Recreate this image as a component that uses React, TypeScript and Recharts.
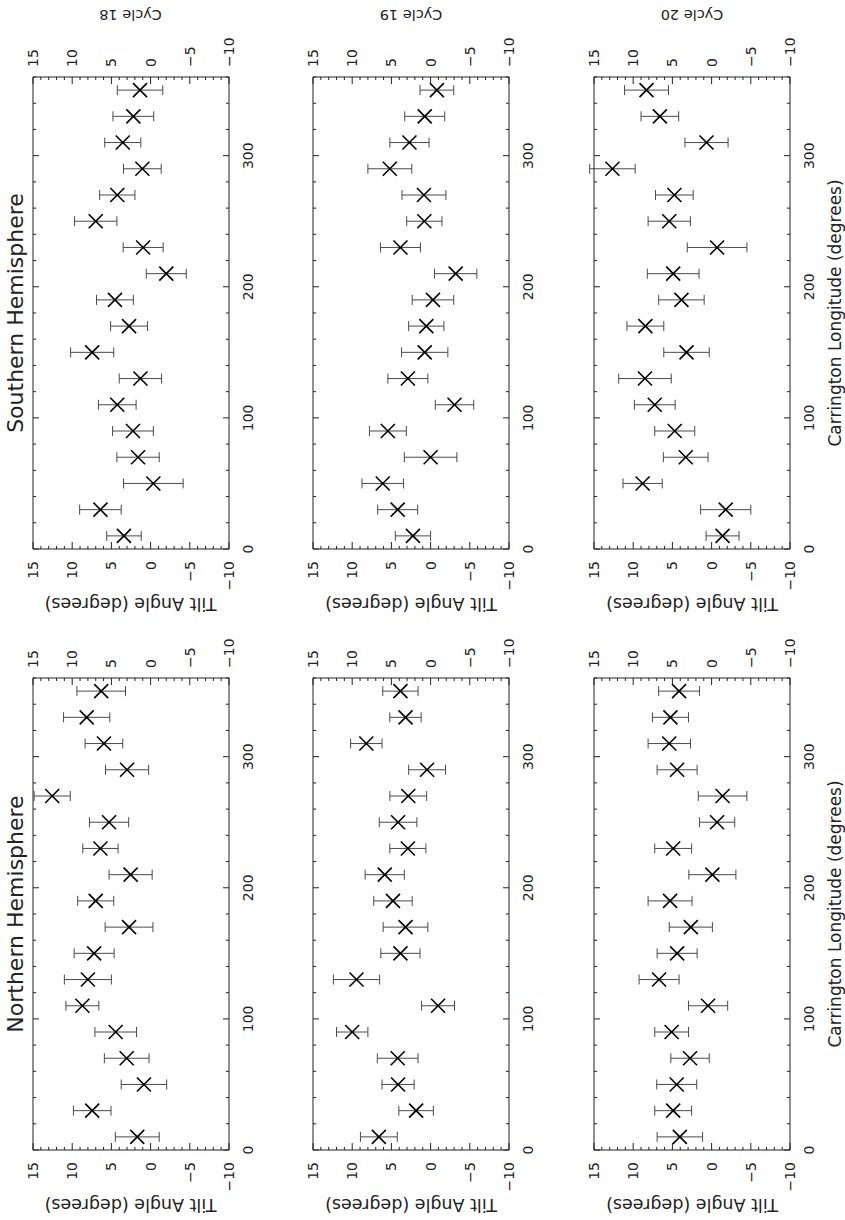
import React from 'react';
import { ScatterChart, Scatter, XAxis, YAxis, ErrorBar } from 'recharts';

// Carrington longitude bins (degrees)
const longitudes = [10, 30, 50, 70, 90, 110, 130, 150, 170, 190, 210, 230, 250, 270, 290, 310, 330, 350];

// Northern Hemisphere
const northCycle18Tilt = [1.7, 7.45, 0.85, 3.05, 4.45, 8.7, 8.0, 7.2, 2.75, 7.0, 2.55, 6.4, 5.3, 12.55, 3.0, 5.95, 8.15, 6.3];
const northCycle18Err = [2.8, 2.4, 2.9, 2.85, 2.65, 2.1, 3.0, 2.55, 3.05, 2.3, 2.75, 2.25, 2.5, 2.3, 2.75, 2.4, 2.95, 3.1];
const northCycle19Tilt = [6.6, 1.85, 4.15, 4.2, 10.0, -0.95, 9.45, 3.85, 3.2, 4.8, 5.85, 2.9, 4.15, 2.85, 0.45, 8.2, 3.2, 3.85];
const northCycle19Err = [2.35, 2.2, 2.05, 2.6, 2.0, 2.1, 2.95, 2.5, 2.85, 2.45, 2.5, 2.3, 2.4, 2.35, 2.35, 2.0, 2.0, 2.25];
const northCycle20Tilt = [4.05, 4.9, 4.45, 2.75, 5.1, 0.45, 6.7, 4.4, 2.65, 5.3, -0.1, 4.9, -0.7, -1.4, 4.4, 5.4, 5.25, 4.15];
const northCycle20Err = [2.9, 2.35, 2.55, 2.45, 2.15, 2.5, 2.55, 2.55, 2.75, 2.8, 3.0, 2.35, 2.25, 3.1, 2.55, 2.7, 2.3, 2.6];

// Southern Hemisphere
const southCycle18Tilt = [3.4, 6.4, -0.35, 1.6, 2.25, 4.25, 1.3, 7.45, 2.75, 4.55, -2.0, 0.95, 7.0, 4.25, 1.05, 3.55, 2.2, 1.35];
const southCycle18Err = [2.2, 2.65, 3.8, 2.7, 2.6, 2.4, 2.7, 2.75, 2.35, 2.35, 2.55, 2.55, 2.7, 2.25, 2.4, 2.3, 2.6, 2.9];
const southCycle19Tilt = [2.25, 4.2, 6.1, 0.0, 5.45, -3.05, 2.9, 0.75, 0.55, -0.3, -3.2, 3.85, 0.8, 0.85, 5.2, 2.7, 0.75, -0.8];
const southCycle19Err = [2.25, 2.55, 2.65, 3.35, 2.35, 2.45, 2.55, 2.95, 2.25, 2.65, 2.7, 2.55, 2.25, 2.8, 2.8, 2.5, 2.55, 2.15];
const southCycle20Tilt = [-1.4, -1.8, 8.8, 3.3, 4.7, 7.25, 8.5, 3.2, 8.45, 3.85, 4.9, -0.7, 5.4, 4.75, 12.65, 0.65, 6.6, 8.3];
const southCycle20Err = [2.1, 3.2, 2.5, 2.85, 2.55, 2.6, 3.35, 2.9, 2.35, 2.9, 3.3, 3.8, 2.7, 2.4, 2.9, 2.75, 2.4, 2.8];

// Axis ticks and labels
const lonTicks = [0, 20, 40, 60, 80, 100, 120, 140, 160, 180, 200, 220, 240, 260, 280, 300, 320, 340, 360];
const lonLabels = [0, 100, 200, 300];
const tiltTicks = [-10, -9, -8, -7, -6, -5, -4, -3, -2, -1, 0, 1, 2, 3, 4, 5, 6, 7, 8, 9, 10, 11, 12, 13, 14, 15];
const tiltLabels = [-10, -5, 0, 5, 10, 15];
const cycleNames = ['Cycle 18', 'Cycle 19', 'Cycle 20'];
const hemisphereNames = ['Northern Hemisphere', 'Southern Hemisphere'];
const tiltTitle = 'Tilt Angle (degrees)';
const lonTitle = 'Carrington Longitude (degrees)';

const FONT = '"DejaVu Sans", "Liberation Sans", sans-serif';
const INK = '#222';
const FIG_W = 1220;
const FIG_H = 845;
const PLOT_W = 472;
const PLOT_H = 196;
const AXIS_L = 65;
const AXIS_R = 70;
const AXIS_T = 20;
const AXIS_B = 40;
const colLeft = [70, 671];
const rowTop = [32.5, 313, 594];

const fmt = (v: number) => (v < 0 ? '\u2212' + Math.abs(v) : String(v));

const LonTick = (props: any) => {
  const { x, y, payload, side } = props;
  const v = payload.value;
  const major = v % 100 === 0;
  const len = major ? 6 : 3;
  const dir = side === 'bottom' ? -1 : 1;
  return (
    <g>
      <line x1={x} y1={y} x2={x} y2={y + dir * len} stroke={INK} strokeWidth={1} />
      {side === 'bottom' && lonLabels.includes(v) ? (
        <text x={x} y={y + 19} textAnchor="middle" dominantBaseline="central" fontSize={14} fontFamily={FONT} fill={INK}>
          {String(v)}
        </text>
      ) : null}
    </g>
  );
};

const TiltTick = (props: any) => {
  const { x, y, payload, side } = props;
  const v = payload.value;
  const major = v % 5 === 0;
  const len = major ? 7 : 3;
  const dir = side === 'left' ? 1 : -1;
  return (
    <g>
      <line x1={x} y1={y} x2={x + dir * len} y2={y} stroke={INK} strokeWidth={1} />
      {tiltLabels.includes(v) ? (
        <text
          x={side === 'left' ? x - 12 : x + 10}
          y={y}
          textAnchor={side === 'left' ? 'end' : 'start'}
          dominantBaseline="central"
          fontSize={14}
          fontFamily={FONT}
          fill={INK}
        >
          {fmt(v)}
        </text>
      ) : null}
    </g>
  );
};

const XMark = (props: any) => {
  const { cx, cy } = props;
  if (cx == null || cy == null) return <g />;
  const r = 7;
  return (
    <g>
      <line x1={cx - r} y1={cy - r} x2={cx + r} y2={cy + r} stroke="#000" strokeWidth={1.6} />
      <line x1={cx - r} y1={cy + r} x2={cx + r} y2={cy - r} stroke="#000" strokeWidth={1.6} />
    </g>
  );
};

function Panel({ tilt, err, left, top }: { tilt: number[]; err: number[]; left: number; top: number }) {
  const data = longitudes.map((lon, i) => ({ lon, tilt: tilt[i], err: err[i] }));
  return (
    <div style={{ position: 'absolute', left: left - AXIS_L, top: top - AXIS_T }}>
      <ScatterChart
        width={PLOT_W + AXIS_L + AXIS_R}
        height={PLOT_H + AXIS_T + AXIS_B}
        margin={{ top: 0, right: 0, bottom: 0, left: 0 }}
      >
        <XAxis
          xAxisId="b"
          type="number"
          dataKey="lon"
          domain={[0, 360]}
          ticks={lonTicks}
          interval={0}
          orientation="bottom"
          height={AXIS_B}
          tickSize={0}
          tickMargin={0}
          tickLine={false}
          axisLine={{ stroke: INK, strokeWidth: 1 }}
          tick={(p: any) => <LonTick {...p} side="bottom" />}
          allowDataOverflow
        />
        <XAxis
          xAxisId="t"
          type="number"
          dataKey="lon"
          domain={[0, 360]}
          ticks={lonTicks}
          interval={0}
          orientation="top"
          height={AXIS_T}
          tickSize={0}
          tickMargin={0}
          tickLine={false}
          axisLine={{ stroke: INK, strokeWidth: 1 }}
          tick={(p: any) => <LonTick {...p} side="top" />}
          allowDataOverflow
        />
        <YAxis
          yAxisId="l"
          type="number"
          dataKey="tilt"
          domain={[-10, 15]}
          ticks={tiltTicks}
          interval={0}
          orientation="left"
          width={AXIS_L}
          tickSize={0}
          tickMargin={0}
          tickLine={false}
          axisLine={{ stroke: INK, strokeWidth: 1 }}
          tick={(p: any) => <TiltTick {...p} side="left" />}
          allowDataOverflow
        />
        <YAxis
          yAxisId="r"
          type="number"
          dataKey="tilt"
          domain={[-10, 15]}
          ticks={tiltTicks}
          interval={0}
          orientation="right"
          width={AXIS_R}
          tickSize={0}
          tickMargin={0}
          tickLine={false}
          axisLine={{ stroke: INK, strokeWidth: 1 }}
          tick={(p: any) => <TiltTick {...p} side="right" />}
          allowDataOverflow
        />
        <Scatter data={data} xAxisId="b" yAxisId="l" dataKey="tilt" shape={XMark} isAnimationActive={false}>
          <ErrorBar dataKey="err" direction="y" width={5} stroke="#4a4a4a" strokeWidth={1} isAnimationActive={false} />
        </Scatter>
      </ScatterChart>
    </div>
  );
}

const panels = [
  { col: 0, row: 0, tilt: northCycle18Tilt, err: northCycle18Err },
  { col: 0, row: 1, tilt: northCycle19Tilt, err: northCycle19Err },
  { col: 0, row: 2, tilt: northCycle20Tilt, err: northCycle20Err },
  { col: 1, row: 0, tilt: southCycle18Tilt, err: southCycle18Err },
  { col: 1, row: 1, tilt: southCycle19Tilt, err: southCycle19Err },
  { col: 1, row: 2, tilt: southCycle20Tilt, err: southCycle20Err },
];

export default function App() {
  return (
    <div
      style={{
        position: 'absolute',
        left: 0,
        top: 0,
        width: FIG_W,
        height: FIG_H,
        background: '#fff',
        transformOrigin: '0 0',
        transform: `translate(0px, ${FIG_W}px) rotate(-90deg)`,
        fontFamily: FONT,
      }}
    >
      {panels.map((p, i) => (
        <Panel key={i} tilt={p.tilt} err={p.err} left={colLeft[p.col]} top={rowTop[p.row]} />
      ))}
      <svg
        width={FIG_W}
        height={FIG_H}
        style={{ position: 'absolute', left: 0, top: 0, pointerEvents: 'none' }}
        fontFamily={FONT}
        fill={INK}
      >
        {hemisphereNames.map((name, c) => (
          <text key={name} x={colLeft[c] + PLOT_W / 2} y={15} textAnchor="middle" dominantBaseline="central" fontSize={22}>
            {name}
          </text>
        ))}
        {colLeft.map((L, c) =>
          rowTop.map((T, r) => {
            const cx = L - 55;
            const cy = T + PLOT_H / 2;
            return (
              <text
                key={`t${c}${r}`}
                x={cx}
                y={cy}
                textAnchor="middle"
                dominantBaseline="central"
                fontSize={17.5}
                transform={`rotate(-90 ${cx} ${cy})`}
              >
                {tiltTitle}
              </text>
            );
          })
        )}
        {cycleNames.map((name, r) => {
          const cx = 1205;
          const cy = rowTop[r] + PLOT_H / 2;
          return (
            <text
              key={name}
              x={cx}
              y={cy}
              textAnchor="middle"
              dominantBaseline="central"
              fontSize={14.5}
              transform={`rotate(-90 ${cx} ${cy})`}
            >
              {name}
            </text>
          );
        })}
        {colLeft.map((L, c) => (
          <text key={`lon${c}`} x={L + PLOT_W / 2} y={835} textAnchor="middle" dominantBaseline="central" fontSize={17}>
            {lonTitle}
          </text>
        ))}
      </svg>
    </div>
  );
}
